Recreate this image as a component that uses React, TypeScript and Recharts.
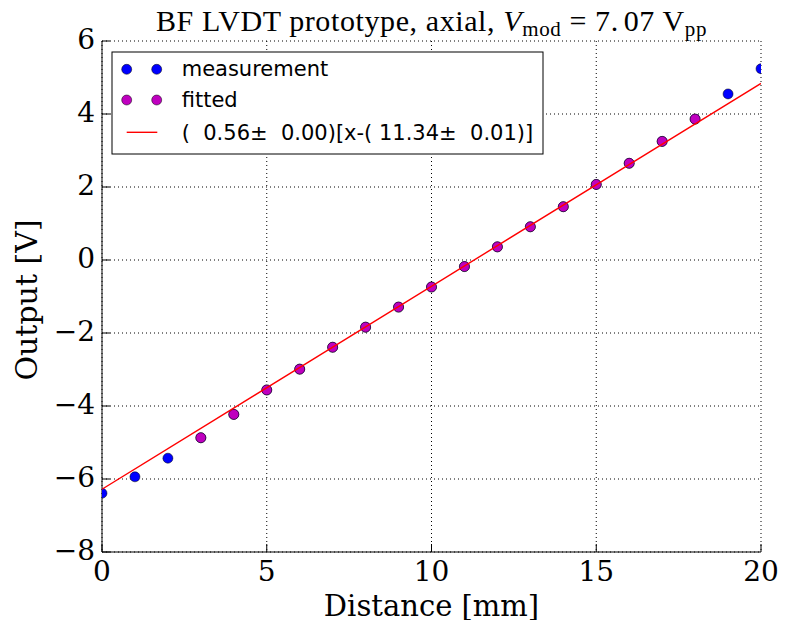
import React from 'react';
import { CartesianGrid, Scatter, ScatterChart, XAxis, YAxis } from 'recharts';

// measured output vs. distance
const distances = [0, 1, 2, 3, 4, 5, 6, 7, 8, 9, 10, 11, 12, 13, 14, 15, 16, 17, 18, 19, 20];
const outputs = [
  -6.39, -5.94, -5.43, -4.87, -4.23, -3.56, -2.99, -2.39, -1.84, -1.29, -0.74,
  -0.18, 0.36, 0.91, 1.46, 2.07, 2.65, 3.25, 3.86, 4.55, 5.24,
];

// points used in the fit
const fittedDistances = [3, 4, 5, 6, 7, 8, 9, 10, 11, 12, 13, 14, 15, 16, 17, 18];
const fittedOutputs = [
  -4.87, -4.23, -3.56, -2.99, -2.39, -1.84, -1.29, -0.74, -0.18, 0.36, 0.91,
  1.46, 2.07, 2.65, 3.25, 3.86,
];

// fit line endpoints
const fitX = [0, 20];
const fitY = [-6.28, 4.84];

const xTicks = [0, 5, 10, 15, 20];
const yTicks = [-8, -6, -4, -2, 0, 2, 4, 6];

const measured = distances.map((x, i) => ({ x, y: outputs[i] }));
const fitted = fittedDistances.map((x, i) => ({ x, y: fittedOutputs[i] }));
const fitLine = fitX.map((x, i) => ({ x, y: fitY[i] }));

const W = 785;
const H = 620;
const TOP = 41;
const BOTTOM = 552;
const LEFT = 102;
const RIGHT = 761;
const TICK = 8;
const SERIF = 'DejaVu Serif';
const SANS = 'DejaVu Sans';

const fmt = (v: number) => String(v).replace('-', '\u2212');

const BottomTick = (p: any) => (
  <g>
    <line x1={p.x} x2={p.x} y1={BOTTOM} y2={BOTTOM - TICK} stroke="#000" />
    <text x={p.x} y={581} textAnchor="middle" fontFamily={SERIF} fontSize={28} fill="#000">
      {fmt(p.payload.value)}
    </text>
  </g>
);

const TopTick = (p: any) => (
  <line x1={p.x} x2={p.x} y1={TOP} y2={TOP + TICK} stroke="#000" />
);

const LeftTick = (p: any) => (
  <g>
    <line x1={LEFT} x2={LEFT + TICK} y1={p.y} y2={p.y} stroke="#000" />
    <text x={95} y={p.y + 8} textAnchor="end" fontFamily={SERIF} fontSize={28} fill="#000">
      {fmt(p.payload.value)}
    </text>
  </g>
);

const RightTick = (p: any) => (
  <line x1={RIGHT} x2={RIGHT - TICK} y1={p.y} y2={p.y} stroke="#000" />
);

const Dot = (color: string) => (p: any) => (
  <circle cx={p.cx} cy={p.cy} r={5} fill={color} stroke="#000" strokeWidth={0.5} />
);

const BLUE = '#0000ff';
const MAGENTA = '#bf00bf';
const RED = '#ff0000';

export default function App() {
  return (
    <div style={{ position: 'absolute', left: 0, top: 0, width: W, height: H, background: '#fff' }}>
      <ScatterChart width={W} height={H} margin={{ top: TOP, right: W - RIGHT, bottom: 0, left: 0 }}>
        <CartesianGrid
          xAxisId="b"
          yAxisId="l"
          stroke="#000"
          strokeWidth={1}
          strokeDasharray="1 3"
          verticalValues={xTicks}
          horizontalValues={yTicks}
        />
        <XAxis
          xAxisId="b"
          type="number"
          dataKey="x"
          domain={[0, 20]}
          ticks={xTicks}
          interval={0}
          allowDataOverflow
          height={H - BOTTOM}
          tickLine={false}
          axisLine={{ stroke: '#000' }}
          tick={BottomTick}
        />
        <XAxis
          xAxisId="t"
          orientation="top"
          type="number"
          dataKey="x"
          domain={[0, 20]}
          ticks={xTicks}
          interval={0}
          allowDataOverflow
          height={0}
          tickLine={false}
          axisLine={{ stroke: '#000' }}
          tick={TopTick}
        />
        <YAxis
          yAxisId="l"
          type="number"
          dataKey="y"
          domain={[-8, 6]}
          ticks={yTicks}
          interval={0}
          allowDataOverflow
          width={LEFT}
          tickLine={false}
          axisLine={{ stroke: '#000' }}
          tick={LeftTick}
        />
        <YAxis
          yAxisId="r"
          orientation="right"
          type="number"
          dataKey="y"
          domain={[-8, 6]}
          ticks={yTicks}
          interval={0}
          allowDataOverflow
          width={0}
          tickLine={false}
          axisLine={{ stroke: '#000' }}
          tick={RightTick}
        />
        <Scatter
          name="measurement"
          data={measured}
          xAxisId="b"
          yAxisId="l"
          fill={BLUE}
          shape={Dot(BLUE)}
          isAnimationActive={false}
        />
        <Scatter
          name="fitted"
          data={fitted}
          xAxisId="b"
          yAxisId="l"
          fill={MAGENTA}
          shape={Dot(MAGENTA)}
          isAnimationActive={false}
        />
        <Scatter
          name="fit"
          data={fitLine}
          xAxisId="b"
          yAxisId="l"
          line={{ stroke: RED, strokeWidth: 1.4 }}
          lineType="joint"
          shape={() => <g />}
          isAnimationActive={false}
        />
      </ScatterChart>

      <svg
        width={W}
        height={H}
        style={{ position: 'absolute', left: 0, top: 0, pointerEvents: 'none' }}
      >
        <text
          x={431.5}
          y={31}
          textAnchor="middle"
          fontFamily="Liberation Serif"
          fontSize={30}
          letterSpacing={0.6}
          fill="#000"
        >
          {'BF LVDT prototype, axial, '}
          <tspan fontStyle="italic">V</tspan>
          <tspan fontSize={21} dy={5}>mod</tspan>
          <tspan dy={-5}>{' = 7.'}</tspan>
          <tspan dx={5}>{'07 V'}</tspan>
          <tspan fontSize={21} dy={5}>pp</tspan>
        </text>

        <text x={431.5} y={616} textAnchor="middle" fontFamily={SERIF} fontSize={29} fill="#000">
          Distance [mm]
        </text>
        <text
          x={37}
          y={300}
          transform="rotate(-90 37 300)"
          textAnchor="middle"
          fontFamily={SERIF}
          fontSize={30}
          fill="#000"
        >
          Output [V]
        </text>

        <rect x={112} y={52} width={431} height={102} fill="#fff" stroke="#000" strokeWidth={1} />
        <circle cx={126.7} cy={69.3} r={5} fill={BLUE} stroke="#000" strokeWidth={0.5} />
        <circle cx={156.7} cy={69.3} r={5} fill={BLUE} stroke="#000" strokeWidth={0.5} />
        <text x={181.7} y={76} fontFamily={SANS} fontSize={21} fill="#000">measurement</text>
        <circle cx={126.7} cy={100} r={5} fill={MAGENTA} stroke="#000" strokeWidth={0.5} />
        <circle cx={156.7} cy={100} r={5} fill={MAGENTA} stroke="#000" strokeWidth={0.5} />
        <text x={181.7} y={107} fontFamily={SANS} fontSize={21} fill="#000">fitted</text>
        <line x1={126.7} x2={157.3} y1={132.3} y2={132.3} stroke={RED} strokeWidth={1.4} />
        <text x={181.7} y={139.5} fontFamily={SANS} fontSize={21} fill="#000" style={{ whiteSpace: 'pre' }}>
          {'(  0.56\u00b1  0.00)[x-( 11.34\u00b1  0.01)]'}
        </text>
      </svg>
    </div>
  );
}
